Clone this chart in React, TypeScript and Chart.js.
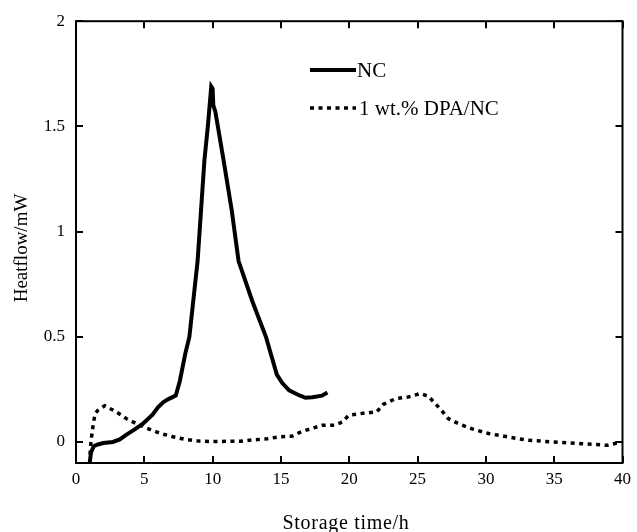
import React, { useEffect, useRef } from 'react';
import { Chart, registerables } from 'chart.js';

Chart.register(...registerables);

// ---- data ----
const seriesNames = ['NC', '1 wt.% DPA/NC'];

const ncX = [1.0, 1.1, 1.3, 1.6, 2.0, 2.7, 3.2, 3.7, 4.3, 4.9, 5.6, 6.0, 6.4, 6.8, 7.3, 7.6, 8.0, 8.3, 8.6, 8.9, 9.15, 9.4, 9.65, 9.9, 10.0, 10.05, 10.2, 10.8, 11.4, 11.9, 12.9, 13.9, 14.7, 15.1, 15.6, 16.4, 16.8, 17.3, 18.0, 18.4];
const ncY = [-0.1, -0.05, -0.02, -0.012, -0.005, 0.0, 0.012, 0.035, 0.06, 0.087, 0.13, 0.165, 0.19, 0.205, 0.22, 0.29, 0.42, 0.5, 0.68, 0.86, 1.1, 1.34, 1.5, 1.69, 1.68, 1.6, 1.57, 1.34, 1.1, 0.86, 0.67, 0.5, 0.32, 0.28, 0.245, 0.22, 0.21, 0.213, 0.22, 0.235];

const dpaX = [1.0, 1.05, 1.15, 1.27, 1.4, 1.6, 2.1, 2.9, 3.7, 4.5, 5.4, 6.2, 7.1, 8.0, 9.0, 10.0, 11.0, 12.0, 13.0, 14.0, 14.9, 15.8, 16.3, 16.8, 17.3, 18.0, 18.9, 19.5, 19.96, 21.2, 22.0, 22.5, 23.4, 24.3, 25.2, 25.8, 26.3, 26.8, 27.25, 28.0, 28.95, 30.2, 31.6, 33.1, 35.0, 37.0, 38.9, 39.6];
const dpaY = [-0.1, -0.03, 0.03, 0.087, 0.135, 0.15, 0.172, 0.145, 0.11, 0.085, 0.06, 0.04, 0.025, 0.012, 0.004, 0.002, 0.003, 0.003, 0.01, 0.015, 0.025, 0.027, 0.043, 0.055, 0.065, 0.079, 0.08, 0.095, 0.127, 0.138, 0.142, 0.179, 0.206, 0.213, 0.23, 0.217, 0.182, 0.147, 0.111, 0.087, 0.063, 0.04, 0.024, 0.008, 0.0, -0.008, -0.016, -0.005];

const xTicks = [0, 5, 10, 15, 20, 25, 30, 35, 40];
const yTicks = [0, 0.5, 1, 1.5, 2];
const xTitle = 'Storage time/h';
const yTitle = 'Heatflow/mW';

const FONT = '"Liberation Serif", "Times New Roman", serif';

const framePlugin = {
  id: 'frame',
  afterDraw(chart: any) {
    const { ctx, chartArea: a, scales } = chart;
    ctx.save();
    ctx.strokeStyle = '#000';
    ctx.fillStyle = '#000';
    ctx.lineWidth = 2;
    ctx.strokeRect(a.left, a.top, a.right - a.left, a.bottom - a.top);
    const L = 7;
    ctx.beginPath();
    for (const v of xTicks) {
      const px = Math.round(scales.x.getPixelForValue(v));
      ctx.moveTo(px, a.bottom); ctx.lineTo(px, a.bottom - L);
      ctx.moveTo(px, a.top); ctx.lineTo(px, a.top + L);
    }
    for (const v of yTicks) {
      const py = Math.round(scales.y.getPixelForValue(v));
      ctx.moveTo(a.left, py); ctx.lineTo(a.left + L, py);
      ctx.moveTo(a.right, py); ctx.lineTo(a.right - L, py);
    }
    ctx.stroke();

    // legend
    ctx.font = `21px ${FONT}`;
    ctx.textAlign = 'left';
    ctx.textBaseline = 'alphabetic';
    ctx.lineWidth = 4;
    ctx.setLineDash([]);
    ctx.beginPath(); ctx.moveTo(310, 70); ctx.lineTo(356, 70); ctx.stroke();
    ctx.fillText(seriesNames[0], 357, 77);
    ctx.lineWidth = 3.5;
    ctx.setLineDash([4, 4.5]);
    ctx.beginPath(); ctx.moveTo(310, 108); ctx.lineTo(356, 108); ctx.stroke();
    ctx.setLineDash([]);
    ctx.fillText(seriesNames[1], 359, 115);

    // axis titles
    ctx.font = `20px ${FONT}`;
    (ctx as any).letterSpacing = '0.7px';
    ctx.textAlign = 'center';
    ctx.fillText(xTitle, 346, 529);
    (ctx as any).letterSpacing = '0px';
    ctx.font = `19px ${FONT}`;
    ctx.translate(27, 248);
    ctx.rotate(-Math.PI / 2);
    ctx.fillText(yTitle, 0, 0);
    ctx.restore();
  },
};

export default function App() {
  const ref = useRef<HTMLCanvasElement>(null);
  useEffect(() => {
    if (!ref.current) return;
    const chart = new Chart(ref.current, {
      type: 'line',
      data: {
        datasets: [
          {
            label: seriesNames[0],
            data: ncX.map((x, i) => ({ x, y: ncY[i] })),
            borderColor: '#000',
            borderWidth: 4,
            pointRadius: 0,
            tension: 0,
            fill: false,
          },
          {
            label: seriesNames[1],
            data: dpaX.map((x, i) => ({ x, y: dpaY[i] })),
            borderColor: '#000',
            borderWidth: 3.5,
            borderDash: [4, 4.5],
            pointRadius: 0,
            tension: 0,
            fill: false,
          },
        ],
      },
      options: {
        animation: false,
        responsive: false,
        layout: { padding: { top: 20, right: 12, left: 0, bottom: 0 } },
        plugins: { legend: { display: false }, tooltip: { enabled: false }, title: { display: false } },
        scales: {
          x: {
            type: 'linear',
            min: 0,
            max: 40,
            grid: { display: false, drawTicks: false },
            border: { display: false },
            afterBuildTicks: (s: any) => { s.ticks = xTicks.map((v) => ({ value: v })); },
            afterFit: (s: any) => { s.height = 69; },
            ticks: {
              font: { family: FONT, size: 17 },
              color: '#000',
              padding: 6,
              maxRotation: 0,
              autoSkip: false,
              callback: (v: any) => String(v),
            },
          },
          y: {
            type: 'linear',
            min: -0.1,
            max: 2,
            grid: { display: false, drawTicks: false },
            border: { display: false },
            afterBuildTicks: (s: any) => { s.ticks = yTicks.map((v) => ({ value: v })); },
            afterFit: (s: any) => { s.width = 76; },
            ticks: {
              font: { family: FONT, size: 17 },
              color: '#000',
              padding: 11,
              autoSkip: false,
              callback: (v: any) => String(v),
            },
          },
        },
      },
      plugins: [framePlugin],
    });
    return () => chart.destroy();
  }, []);
  return (
    <div style={{ position: 'fixed', left: 0, top: 0, width: 637, height: 532, background: '#fff' }}>
      <canvas ref={ref} width={637} height={532} style={{ display: 'block' }} />
    </div>
  );
}
